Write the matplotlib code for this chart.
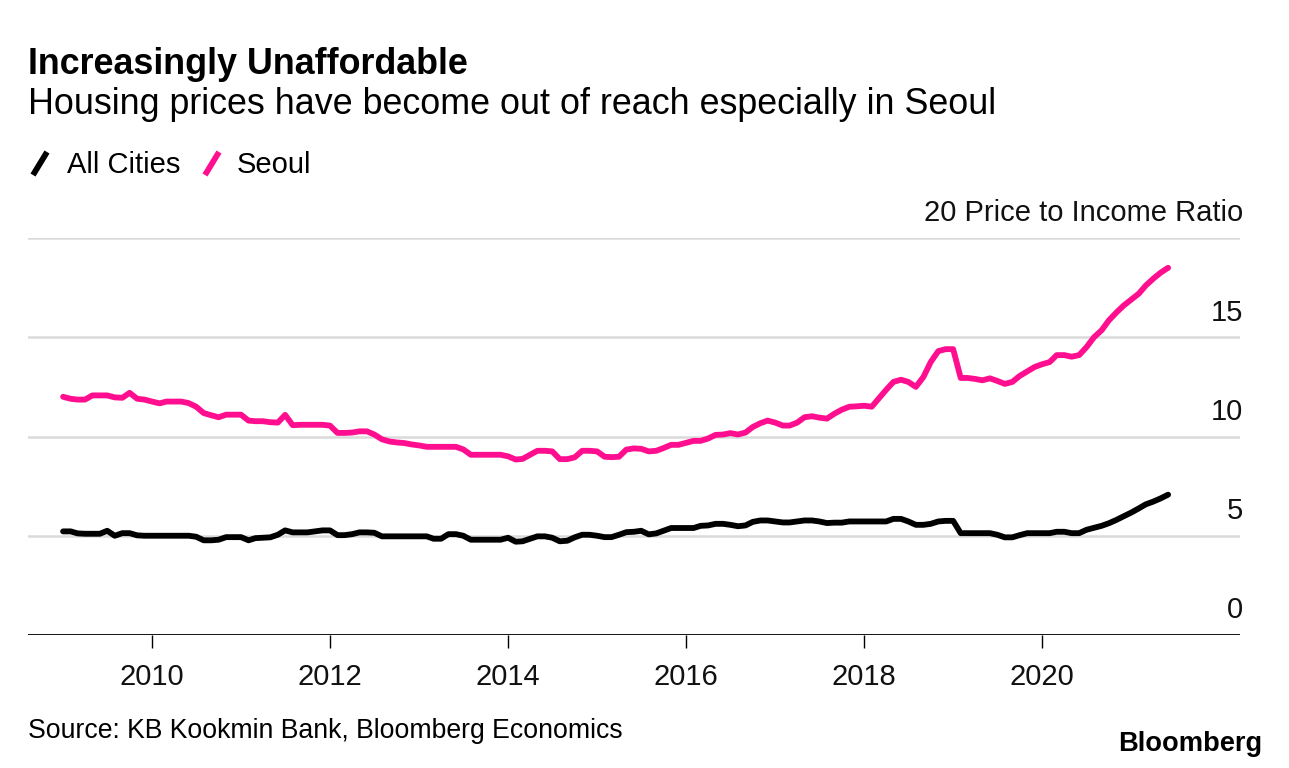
"""Increasingly Unaffordable - Bloomberg-style line chart."""

import matplotlib
matplotlib.use('Agg')
import matplotlib.pyplot as plt
import matplotlib.dates as mdates
import matplotlib.transforms as mtrans
from matplotlib.lines import Line2D
import pandas as pd

plt.rcParams.update({
    'font.family': ['Liberation Sans', 'DejaVu Sans'],
})

# ── Data (monthly, Jan 2009 - Jun 2021) ───────────────────────────────────────
months = pd.date_range('2009-01-01', periods=150, freq='MS')

seoul = [
    12.00, 11.90, 11.86, 11.86, 12.07, 12.07, 12.07, 11.97, 11.95, 12.20, 11.90, 11.86,
    11.76, 11.67, 11.76, 11.76, 11.76, 11.68, 11.50, 11.18, 11.07, 10.97, 11.10, 11.10,
    11.10, 10.80, 10.77, 10.77, 10.72, 10.70, 11.09, 10.57, 10.59, 10.59, 10.59, 10.59,
    10.55, 10.18, 10.18, 10.20, 10.26, 10.26, 10.10, 9.86, 9.75, 9.70, 9.67, 9.60,
    9.55, 9.48, 9.48, 9.48, 9.48, 9.48, 9.35, 9.08, 9.08, 9.08, 9.08, 9.08,
    9.00, 8.84, 8.87, 9.08, 9.28, 9.28, 9.25, 8.86, 8.86, 8.95, 9.28, 9.28,
    9.25, 8.98, 8.96, 8.98, 9.34, 9.40, 9.38, 9.25, 9.28, 9.42, 9.58, 9.58,
    9.68, 9.78, 9.78, 9.90, 10.08, 10.10, 10.17, 10.10, 10.20, 10.48, 10.67, 10.80,
    10.70, 10.55, 10.55, 10.70, 10.97, 11.02, 10.95, 10.90, 11.15, 11.35, 11.50, 11.52,
    11.55, 11.50, 11.90, 12.35, 12.75, 12.86, 12.75, 12.50, 13.00, 13.75, 14.30, 14.40,
    14.40, 12.95, 12.95, 12.90, 12.83, 12.93, 12.80, 12.65, 12.75, 13.05, 13.28, 13.50,
    13.64, 13.75, 14.10, 14.10, 14.02, 14.10, 14.50, 15.00, 15.35, 15.85, 16.25, 16.60,
    16.90, 17.20, 17.60, 17.95, 18.25, 18.50,
]

all_cities = [
    5.22, 5.22, 5.12, 5.10, 5.10, 5.10, 5.25, 5.00, 5.13, 5.13, 5.02, 5.00,
    5.00, 5.00, 5.00, 5.00, 5.00, 5.00, 4.95, 4.77, 4.77, 4.80, 4.93, 4.93,
    4.93, 4.77, 4.88, 4.90, 4.92, 5.05, 5.27, 5.17, 5.17, 5.17, 5.22, 5.27,
    5.27, 5.03, 5.03, 5.08, 5.17, 5.17, 5.15, 4.97, 4.97, 4.97, 4.97, 4.97,
    4.97, 4.97, 4.85, 4.85, 5.08, 5.08, 5.00, 4.80, 4.80, 4.80, 4.80, 4.80,
    4.90, 4.70, 4.72, 4.85, 4.97, 4.97, 4.90, 4.72, 4.75, 4.92, 5.05, 5.05,
    5.00, 4.93, 4.93, 5.05, 5.18, 5.20, 5.25, 5.07, 5.12, 5.25, 5.39, 5.39,
    5.39, 5.39, 5.50, 5.52, 5.60, 5.60, 5.55, 5.48, 5.52, 5.70, 5.77, 5.77,
    5.72, 5.67, 5.67, 5.72, 5.77, 5.77, 5.72, 5.64, 5.66, 5.66, 5.72, 5.72,
    5.72, 5.72, 5.72, 5.72, 5.85, 5.85, 5.72, 5.55, 5.55, 5.60, 5.72, 5.75,
    5.75, 5.13, 5.13, 5.13, 5.13, 5.13, 5.05, 4.92, 4.92, 5.03, 5.13, 5.13,
    5.13, 5.13, 5.20, 5.20, 5.13, 5.13, 5.30, 5.40, 5.50, 5.63, 5.80, 5.98,
    6.17, 6.38, 6.58, 6.72, 6.88, 7.07,
]

y_ticks = [0, 5, 10, 15, 20]
y_labels = ['0', '5', '10', '15', '20 Price to Income Ratio']
x_years = [2010, 2012, 2014, 2016, 2018, 2020]

# ── Style ─────────────────────────────────────────────────────────────────────
PINK = '#FF0F8F'
BLACK = '#000000'
GRID = '#DADADA'
FS_AX = 21
LW = 4.2

W, H = 1289, 768
fig = plt.figure(figsize=(W / 100, H / 100), dpi=100, facecolor='white')


def fx(px):
    return px / W


def fy(py):
    return 1 - py / H


ax_l, ax_r, ax_t, ax_b = 28, 1240, 238, 635
ax = fig.add_axes([fx(ax_l), fy(ax_b), fx(ax_r - ax_l), (ax_b - ax_t) / H])

ax.plot(months, all_cities, color=BLACK, lw=LW, solid_capstyle='round',
        solid_joinstyle='round', zorder=3)
ax.plot(months, seoul, color=PINK, lw=LW, solid_capstyle='round',
        solid_joinstyle='round', zorder=3)

ax.set_xlim(pd.Timestamp('2008-08-10'), pd.Timestamp('2022-03-23'))
ax.set_ylim(0, 20)

for v in y_ticks[1:]:
    ax.axhline(v, color=GRID, lw=1.8, zorder=1)
ax.axhline(0, color=BLACK, lw=1.3, zorder=2)

for s in ax.spines.values():
    s.set_visible(False)

ax.set_yticks([])
ax.set_xticks([pd.Timestamp(f'{y}-01-01') for y in x_years])
ax.xaxis.set_major_formatter(mdates.DateFormatter('%Y'))
ax.tick_params(axis='x', length=9, width=1.0, color=BLACK, pad=11,
               labelsize=FS_AX, labelcolor='#111111')

# right-side y labels above gridlines
lab_tr = mtrans.offset_copy(
    mtrans.blended_transform_factory(ax.transAxes, ax.transData),
    fig=fig, x=0, y=12, units='points')
for v, lab in zip(y_ticks, y_labels):
    ax.text(1.0025, v, lab, transform=lab_tr, ha='right', va='baseline',
            fontsize=FS_AX, color='#111111')

# ── Titles, legend, source ────────────────────────────────────────────────────
fig.text(fx(28), fy(74), 'Increasingly Unaffordable', ha='left', va='baseline',
         fontsize=25.8, fontweight='bold', color='#000000')
fig.text(fx(28), fy(114), 'Housing prices have become out of reach especially in Seoul',
         ha='left', va='baseline', fontsize=25.8, color='#000000')

fig.add_artist(Line2D([fx(33), fx(47)], [fy(175), fy(152)], color=BLACK,
                      lw=LW, solid_capstyle='butt'))
fig.text(fx(67), fy(173), 'All Cities', ha='left', va='baseline',
         fontsize=FS_AX, color='#000000')
fig.add_artist(Line2D([fx(205), fx(219)], [fy(175), fy(152)], color=PINK,
                      lw=LW, solid_capstyle='butt'))
fig.text(fx(237), fy(173), 'Seoul', ha='left', va='baseline',
         fontsize=FS_AX, color='#000000')

fig.text(fx(28), fy(738), 'Source: KB Kookmin Bank, Bloomberg Economics',
         ha='left', va='baseline', fontsize=19.2, color='#000000')
fig.text(fx(1262), fy(751), 'Bloomberg', ha='right', va='baseline',
         fontsize=19.6, fontweight='bold', color='#000000')

fig.savefig('out.png', dpi=100, facecolor='white')
